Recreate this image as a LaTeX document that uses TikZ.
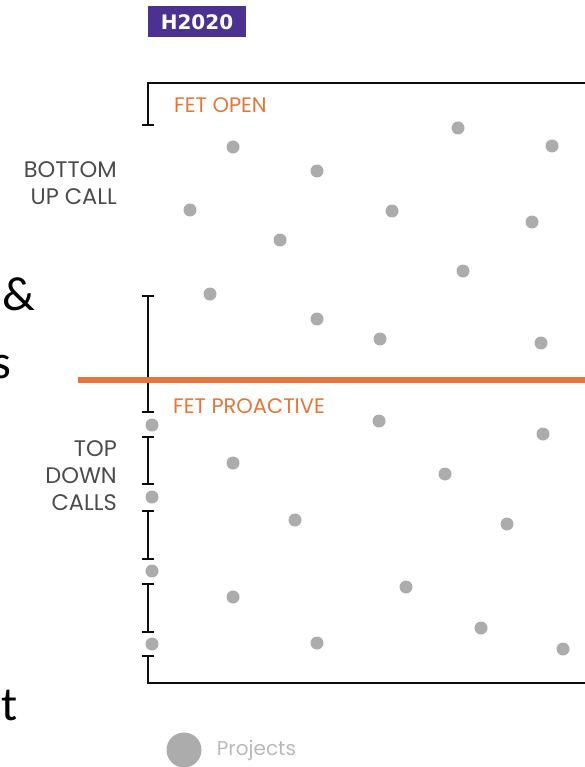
\documentclass[tikz,border=0pt]{standalone}
\usepackage{fontspec}
\setmainfont{Poppins}
\newfontfamily\slidefont{Carlito}
\newfontfamily\badgefont{DejaVu Sans}
\usetikzlibrary{arrows.meta,positioning}
\definecolor{hpurple}{RGB}{75,50,145}
\definecolor{fetorange}{RGB}{228,118,55}
\definecolor{dotgray}{RGB}{172,172,172}
\definecolor{labelgray}{RGB}{75,75,75}
\definecolor{legendgray}{RGB}{185,185,185}

\begin{document}
\begin{tikzpicture}[x=1pt, y=-1pt,
  dot/.style={circle, fill=dotgray, inner sep=0pt, minimum size=13pt},
  frame/.style={line width=1.8pt, black!95},
  span/.style={frame, {Bar[width=12pt]}-{Bar[width=12pt]}},
  fetlabel/.style={anchor=west, text=fetorange, inner sep=0pt,
                   font=\fontsize{21}{24}\selectfont},
  calllabel/.style={anchor=east, align=right, text=labelgray, inner sep=0pt,
                    font=\fontsize{22.5}{27}\selectfont},
  stray/.style={inner sep=0pt, font=\slidefont\fontsize{48}{58}\selectfont}
]
  \useasboundingbox (0,0) rectangle (585,767);

  % badge
  \node[fill=hpurple, text=white, minimum width=98pt, minimum height=31pt,
        inner sep=0pt, font=\badgefont\bfseries\fontsize{20}{24}\selectfont]
        (badge) at (197,22) {H2020};

  % cut-off slide text on the left
  \node[stray, anchor=base west] (amp) at (2,310) {\&};
  \node[stray, anchor=base east] (ess) at (11,378) {s};
  \node[stray, anchor=base west] (tee) at (1,720) {t};

  % frame and call spans
  \coordinate (topright) at (600,83);
  \coordinate (topleft)  at (148,83);
  \coordinate (openend)  at (148,126);
  \draw[frame, -{Bar[width=12pt]}] (topright) -- (topleft) -- (openend);

  \foreach \ya/\yb in {295/413, 436/485, 510/560, 583/633}
    \draw[span] (148,\ya) -- (148,\yb);

  \coordinate (lastcall) at (148,655);
  \coordinate (botleft)  at (148,683);
  \coordinate (botright) at (600,683);
  \draw[frame, {Bar[width=12pt]}-] (lastcall) -- (botleft) -- (botright);

  % divider
  \coordinate (divl) at (78,380);
  \coordinate (divr) at (600,380);
  \draw[fetorange, line width=6.5pt] (divl) -- (divr);

  % labels
  \node[fetlabel] (open) at (174,105) {FET OPEN};
  \node[fetlabel] (proact) at (173,406) {FET PROACTIVE};
  \node[calllabel] (bottomup) at (117,183) {BOTTOM\\UP CALL};
  \node[calllabel] (topdown) at (117,476) {TOP\\DOWN\\CALLS};

  % projects
  \foreach \px/\py [count=\i] in {233/147, 190/210, 280/240, 458/128, 552/146,
      317/171, 392/211, 532/222, 463/271, 210/294, 317/319, 380/339, 541/343,
      379/421, 543/434, 445/474, 233/463, 295/520, 507/524, 406/587,
      233/597, 317/643, 481/628, 563/649}
    \node[dot] (p\i) at (\px,\py) {};
  \foreach \py [count=\i] in {425, 497, 571, 644}
    \node[dot] (s\i) at (152,\py) {};

  % legend
  \node[dot, minimum size=35pt] (legdot) at (184,750) {};
  \node[right=15pt of legdot, text=legendgray, inner sep=0pt,
        font=\fontsize{20}{24}\selectfont] (legtext) {Projects};
\end{tikzpicture}
\end{document}
